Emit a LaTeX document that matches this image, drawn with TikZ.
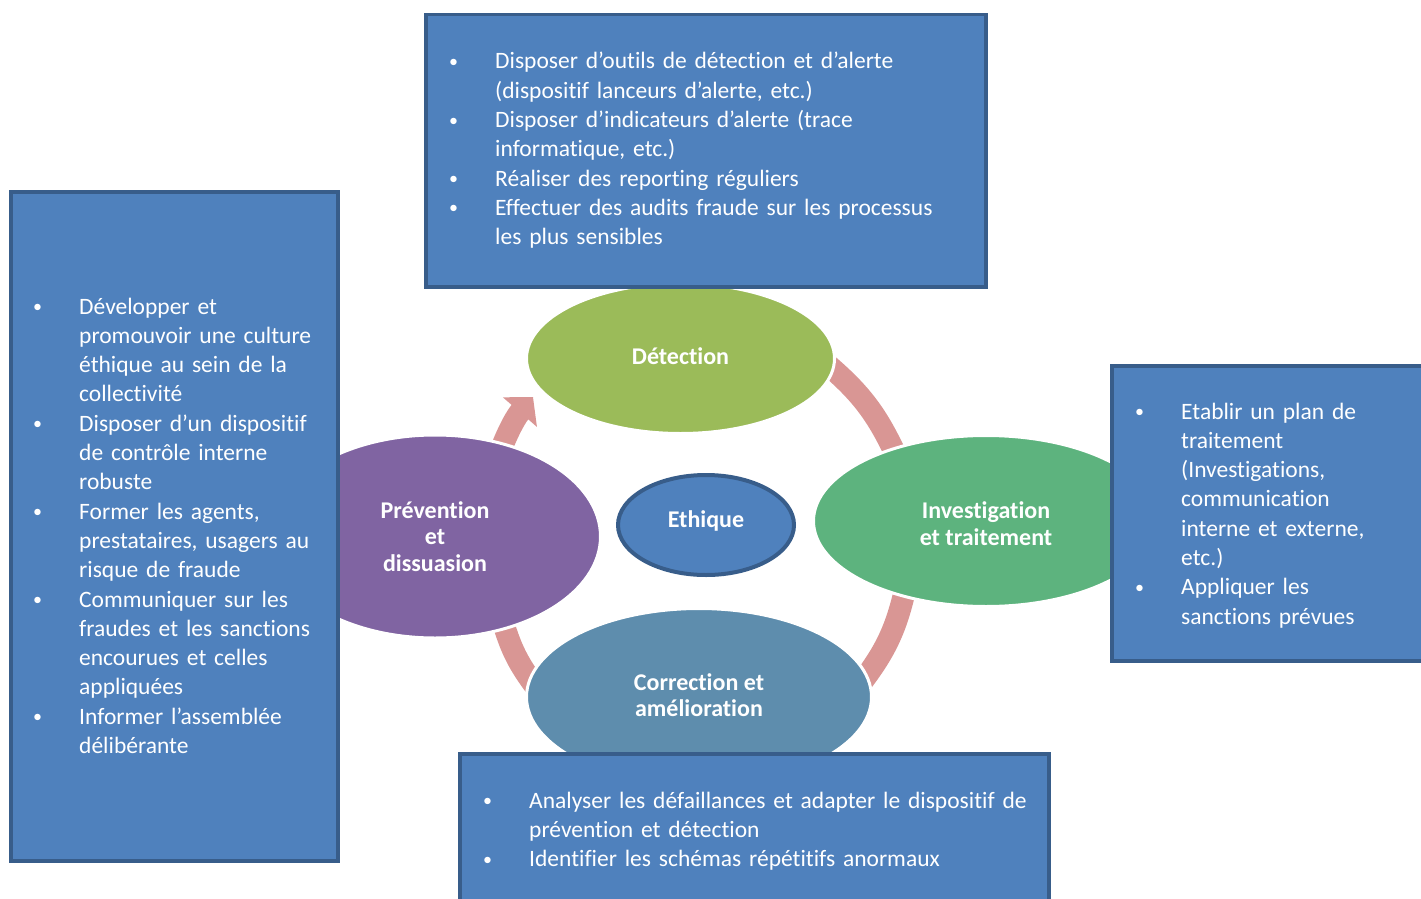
\documentclass[tikz,border=0pt]{standalone}
\usepackage{fontspec}
\setmainfont{Carlito}[Ligatures=NoCommon]
\usetikzlibrary{shapes.geometric,arrows.meta}
\definecolor{boxfill}{HTML}{4F81BD}
\definecolor{boxline}{HTML}{385D8A}
\definecolor{detc}{HTML}{9BBB59}
\definecolor{invc}{HTML}{5DB37E}
\definecolor{prevc}{HTML}{8064A2}
\definecolor{corc}{HTML}{5E8DAD}
\definecolor{arrc}{HTML}{D99694}
\newcommand\mybul{\makebox[44pt][l]{\hspace{-2pt}\raisebox{1.5pt}{\fontsize{18}{18}\selectfont\textbullet}}}
\newcommand\itm[1]{\par\hangindent=44pt\hangafter=1\noindent\mybul\strut#1\par}
\newcommand\nl{\newline}
\begin{document}
\begin{tikzpicture}[x=1pt,y=-1pt,
  infobox/.style={draw=boxline, fill=boxfill, line width=3.5pt, anchor=north west, inner sep=0pt},
  listtext/.style={anchor=north west, inner sep=0pt, text=white,
    font=\fontsize{23.5}{29.3}\selectfont\raggedright, text width=#1},
  lab/.style={text=white, font=\bfseries\fontsize{24}{26.5}\selectfont, align=center},
  ell/.style={ellipse, draw=white, line width=3pt, inner sep=0pt},
  band/.style={draw=arrc, line width=22pt}]
\useasboundingbox (0,0) rectangle (1421,899);

% connector bands (drawn first, ellipses cover their ends)
\coordinate (a1s) at (828,365);
\coordinate (a1e) at (895,453);
\coordinate (a2s) at (905,590);
\coordinate (a2e) at (862,682);
\coordinate (a3s) at (535,686);
\coordinate (a3e) at (503,622);
\coordinate (a4s) at (500,452);
\coordinate (a4e) at (533,397);
\draw[band] (a1s) to[bend left=12] (a1e);
\draw[band] (a2s) to[bend left=12] (a2e);
\draw[band] (a3s) to[bend left=10] (a3e);
\draw[band, -{Triangle[length=20pt,width=44pt]}] (a4s) to[bend left=10] (a4e);

% cycle ellipses
\node[ell, fill=detc, minimum width=308pt, minimum height=150pt] (det) at (680.5,358.5) {};
\node[lab] at ([yshift=2pt]det.center) {Détection};
\node[ell, fill=invc, minimum width=345pt, minimum height=171pt] (inv) at (986,521) {};
\node[lab] at ([yshift=-2.5pt]inv.center) {Investigation\\et traitement};
\node[ell, fill=prevc, minimum width=331pt, minimum height=203pt] (prev) at (435,536.5) {};
\node[lab] at (prev.center) {Prévention\\et\\dissuasion};
\node[ell, fill=corc, minimum width=345pt, minimum height=177pt] (cor) at (699,697) {};
\node[lab] at ([yshift=2pt]cor.center) {Correction et\\amélioration};

% central ellipse
\node[ellipse, fill=boxfill, draw=boxline, line width=4pt, inner sep=0pt,
  minimum width=176pt, minimum height=100pt] (eth) at (706,525) {};
\node[lab] at ([yshift=4pt]eth.center) {Ethique};

% boxes
\node[infobox, minimum width=560pt, minimum height=272pt] (topbox) at (424,13) {};
\node[listtext=520pt] (toptext) at (451,39.5) {%
\itm{Disposer d’outils de détection et d’alerte\nl(dispositif lanceurs d’alerte, etc.)}
\itm{Disposer d’indicateurs d’alerte (trace\nl informatique, etc.)}
\itm{Réaliser des reporting réguliers}
\itm{Effectuer des audits fraude sur les processus\nl les plus sensibles}};

\node[infobox, minimum width=327pt, minimum height=669pt] (leftbox) at (9,190) {};
\node[listtext=300pt] (lefttext) at (35,284.5) {%
\itm{Développer et\nl promouvoir une culture\nl éthique au sein de la\nl collectivité}
\itm{Disposer d’un dispositif\nl de contrôle interne\nl robuste}
\itm{Former les agents,\nl prestataires, usagers au\nl risque de fraude}
\itm{Communiquer sur les\nl fraudes et les sanctions\nl encourues et celles\nl appliquées}
\itm{Informer l’assemblée\nl délibérante}};

\node[infobox, minimum width=320pt, minimum height=295pt] (rightbox) at (1110,364) {};
\node[listtext=280pt] (righttext) at (1137,389.5) {%
\itm{Etablir un plan de\nl traitement\nl(Investigations,\nl communication\nl interne et externe,\nl etc.)}
\itm{Appliquer les\nl sanctions prévues}};

\node[infobox, minimum width=589pt, minimum height=170pt] (botbox) at (458,752) {};
\node[listtext=580pt] (bottext) at (485,778.5) {%
\itm{Analyser les défaillances et adapter le dispositif de\nl prévention et détection}
\itm{Identifier les schémas répétitifs anormaux}};
\end{tikzpicture}
\end{document}
